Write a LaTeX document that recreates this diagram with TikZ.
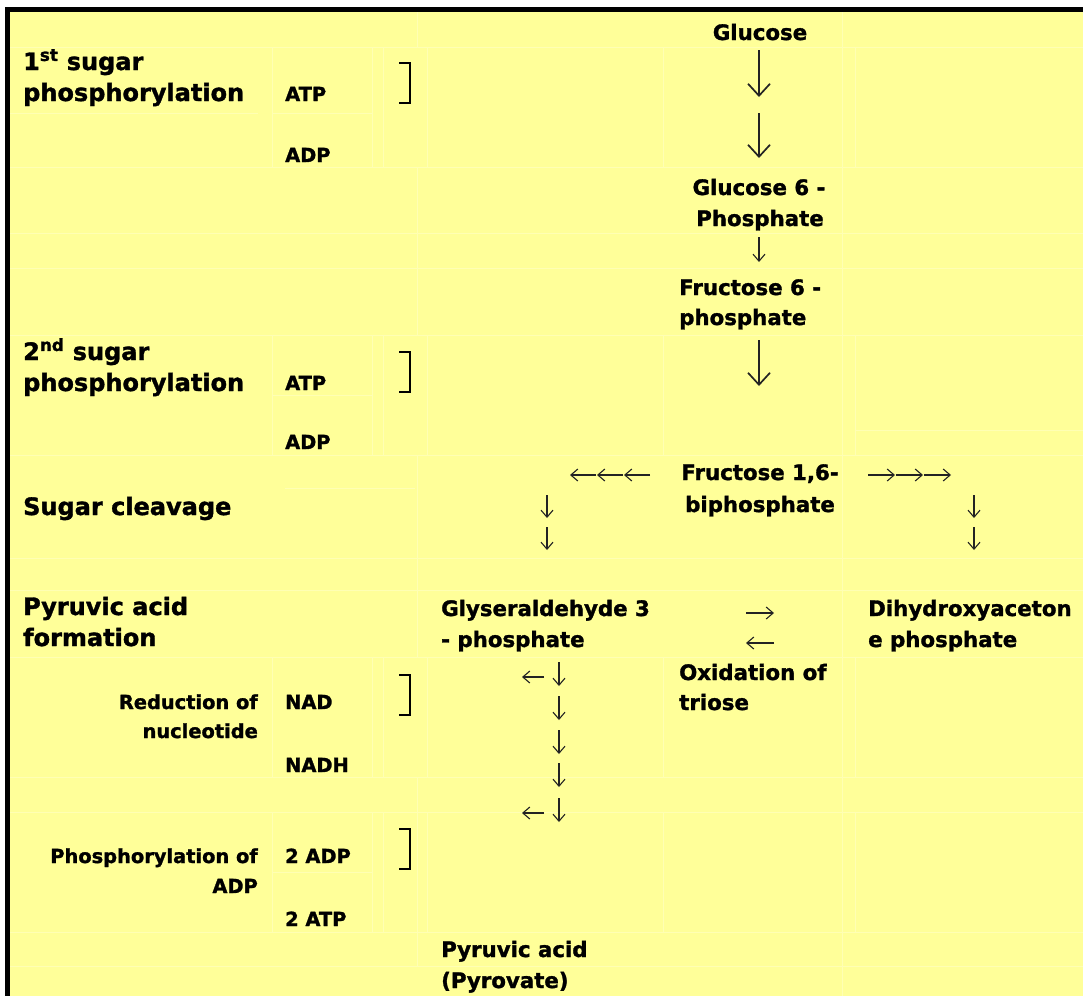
\documentclass[tikz,border=0pt]{standalone}
\usepackage{fontspec}
\setmainfont{DejaVu Sans}[BoldFeatures={FakeBold=1.4}]
\usetikzlibrary{arrows.meta}
\definecolor{bgyellow}{RGB}{255,255,153}
\definecolor{cellline}{RGB}{255,255,180}
\definecolor{arrowcol}{RGB}{35,35,35}
\begin{document}
\begin{tikzpicture}[x=1pt,y=-1pt,
  hd/.style={font=\fontsize{24}{28}\selectfont\bfseries, inner sep=0pt, anchor=base west},
  pw/.style={font=\fontsize{21.3}{26}\selectfont\bfseries, inner sep=0pt, anchor=base west},
  sm/.style={font=\fontsize{19.4}{24}\selectfont\bfseries, inner sep=0pt, anchor=base west},
  smr/.style={sm, anchor=base east},
  grid/.style={draw=cellline, line width=1pt},
  brk/.style={draw=black, line width=1.8pt, line join=miter},
  bigarr/.style={draw=arrowcol, line width=1.7pt, -{Straight Barb[length=12pt,width=22pt,line width=1.7pt]}},
  smarr/.style={draw=arrowcol, line width=1.1pt, -{Straight Barb[length=7pt,width=12pt,line width=1.1pt]}}]
\useasboundingbox (0,0) rectangle (1083,996);
\fill[white] (0,0) rectangle (1083,996);
\fill[bgyellow] (10,12) rectangle (1083,996);
% faint table cell lines
\draw[grid] (10,47) -- (1083,47);
\draw[grid] (10,113) -- (258,113) (272,113) -- (372,113);
\draw[grid] (10,167) -- (1083,167);
\draw[grid] (10,233) -- (1083,233);
\draw[grid] (10,268) -- (1083,268);
\draw[grid] (10,335) -- (1083,335);
\draw[grid] (272,395) -- (372,395) (855,430) -- (1083,430);
\draw[grid] (10,455) -- (1083,455);
\draw[grid] (285,488) -- (415,488);
\draw[grid] (10,558) -- (1083,558);
\draw[grid] (10,590) -- (1083,590);
\draw[grid] (10,657) -- (1083,657);
\draw[grid] (10,777) -- (1083,777);
\draw[grid] (10,812) -- (1083,812);
\draw[grid] (272,872) -- (372,872);
\draw[grid] (10,932) -- (1083,932);
\draw[grid] (10,966) -- (1083,966);
\foreach \xx in {272,372,383,427,663,855} {
  \draw[grid] (\xx,47) -- (\xx,167);
  \draw[grid] (\xx,335) -- (\xx,455);
  \draw[grid] (\xx,657) -- (\xx,777);
  \draw[grid] (\xx,812) -- (\xx,932);
}
\draw[grid] (417,12) -- (417,47) (417,167) -- (417,335) (417,455) -- (417,657) (417,777) -- (417,966);
\draw[grid] (842,12) -- (842,996);
% border
\fill[black] (5,7) rectangle (1083,12);
\fill[black] (5,7) rectangle (10,996);

% left column headings
\node[hd] (h1a) at (23,70) {1\textsuperscript{st} sugar};
\node[hd] (h1b) at (23,101) {phosphorylation};
\node[sm] (atp1) at (285,101) {ATP};
\node[sm] (adp1) at (285,162) {ADP};
\node[hd] (h2a) at (23,360) {2\textsuperscript{nd} sugar};
\node[hd] (h2b) at (23,391) {phosphorylation};
\node[sm] (atp2) at (285,390) {ATP};
\node[sm] (adp2) at (285,449) {ADP};
\node[hd] (clv) at (23,515) {Sugar cleavage};
\node[hd] (pya) at (23,615) {Pyruvic acid};
\node[hd] (pyb) at (23,646) {formation};
\node[smr] (reda) at (258,709) {Reduction of};
\node[smr] (redb) at (258,738) {nucleotide};
\node[sm] (nad) at (285,709) {NAD};
\node[sm] (nadh) at (285,772) {NADH};
\node[smr] (phoa) at (258,863) {Phosphorylation of};
\node[smr] (phob) at (258,893) {ADP};
\node[sm] (adp3) at (285,863) {2 ADP};
\node[sm] (atp3) at (285,926) {2 ATP};

% brackets
\draw[brk] (399,63) -- (410,63) -- (410,103) -- (399,103);
\draw[brk] (399,352) -- (410,352) -- (410,392) -- (399,392);
\draw[brk] (399,675) -- (410,675) -- (410,715) -- (399,715);
\draw[brk] (399,829) -- (410,829) -- (410,869) -- (399,869);

% pathway
\node[pw, anchor=base] (glc) at (760,40) {Glucose};
\node[pw, anchor=base] (g6a) at (759,195) {Glucose 6 -};
\node[pw, anchor=base] (g6b) at (760,226) {Phosphate};
\node[pw] (f6a) at (679,295) {Fructose 6 -};
\node[pw] (f6b) at (679,325) {phosphate};
\node[pw, anchor=base] (fba) at (760,480) {Fructose 1,6-};
\node[pw, anchor=base] (fbb) at (760,512) {biphosphate};
\node[pw] (gla) at (441,616) {Glyseraldehyde 3};
\node[pw] (glb) at (441,647) {- phosphate};
\node[pw] (dha) at (868,616) {Dihydroxyaceton};
\node[pw] (dhb) at (868,647) {e phosphate};
\node[pw] (oxa) at (679,680) {Oxidation of};
\node[pw] (oxb) at (679,710) {triose};
\node[pw] (pra) at (441,957) {Pyruvic acid};
\node[pw] (prb) at (441,988) {(Pyrovate)};

% arrow end points
\coordinate (a1s) at (759,50);  \coordinate (a1e) at (759,97);
\coordinate (a2s) at (759,113); \coordinate (a2e) at (759,158);
\coordinate (a3s) at (759,237); \coordinate (a3e) at (759,262);
\coordinate (a4s) at (759,340); \coordinate (a4e) at (759,386);
\draw[bigarr] (a1s) -- (a1e);
\draw[bigarr] (a2s) -- (a2e);
\draw[smarr] (a3s) -- (a3e);
\draw[bigarr] (a4s) -- (a4e);

% split left / right
\coordinate (l1s) at (596,475); \coordinate (l1e) at (570,475);
\coordinate (l2s) at (623,475); \coordinate (l2e) at (597,475);
\coordinate (l3s) at (650,475); \coordinate (l3e) at (624,475);
\draw[smarr] (l1s) -- (l1e);
\draw[smarr] (l2s) -- (l2e);
\draw[smarr] (l3s) -- (l3e);
\coordinate (r1s) at (868,475); \coordinate (r1e) at (895,475);
\coordinate (r2s) at (896,475); \coordinate (r2e) at (923,475);
\coordinate (r3s) at (924,475); \coordinate (r3e) at (951,475);
\draw[smarr] (r1s) -- (r1e);
\draw[smarr] (r2s) -- (r2e);
\draw[smarr] (r3s) -- (r3e);
\coordinate (ld1s) at (547,495); \coordinate (ld1e) at (547,518);
\coordinate (ld2s) at (547,527); \coordinate (ld2e) at (547,550);
\coordinate (rd1s) at (974,495); \coordinate (rd1e) at (974,518);
\coordinate (rd2s) at (974,527); \coordinate (rd2e) at (974,550);
\draw[smarr] (ld1s) -- (ld1e);
\draw[smarr] (ld2s) -- (ld2e);
\draw[smarr] (rd1s) -- (rd1e);
\draw[smarr] (rd2s) -- (rd2e);

% isomerisation
\coordinate (isos) at (746,613); \coordinate (isoe) at (774,613);
\coordinate (isbs) at (774,643); \coordinate (isbe) at (746,643);
\draw[smarr] (isos) -- (isoe);
\draw[smarr] (isbs) -- (isbe);

% pyruvate branch
\coordinate (s1s) at (544,677); \coordinate (s1e) at (522,677);
\coordinate (d1s) at (559,662); \coordinate (d1e) at (559,686);
\coordinate (d2s) at (559,696); \coordinate (d2e) at (559,720);
\coordinate (d3s) at (559,730); \coordinate (d3e) at (559,754);
\coordinate (d4s) at (559,763); \coordinate (d4e) at (559,787);
\coordinate (s2s) at (544,813); \coordinate (s2e) at (522,813);
\coordinate (d5s) at (559,798); \coordinate (d5e) at (559,822);
\draw[smarr] (s1s) -- (s1e);
\draw[smarr] (d1s) -- (d1e);
\draw[smarr] (d2s) -- (d2e);
\draw[smarr] (d3s) -- (d3e);
\draw[smarr] (d4s) -- (d4e);
\draw[smarr] (s2s) -- (s2e);
\draw[smarr] (d5s) -- (d5e);
\end{tikzpicture}
\end{document}
